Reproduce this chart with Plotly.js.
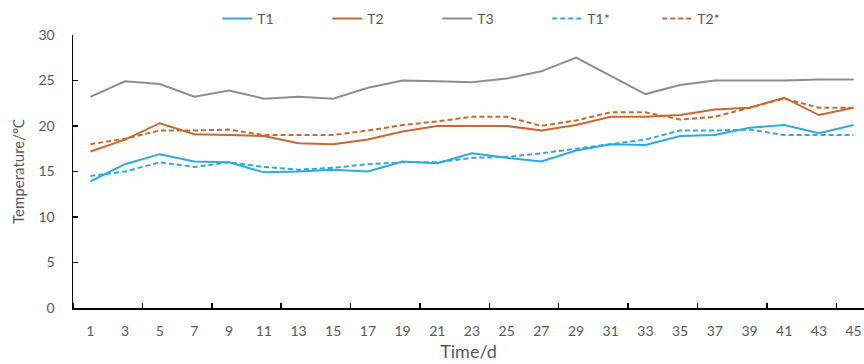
<!DOCTYPE html>
<html>
<head>
<meta charset="utf-8">
<script src="https://cdn.plot.ly/plotly-3.0.1.min.js"></script>
<style>html,body{margin:0;padding:0;background:#fff;}#chart{width:864px;height:364px;}</style>
</head>
<body>
<div id="chart"></div>
<script>
const days = [1,3,5,7,9,11,13,15,17,19,21,23,25,27,29,31,33,35,37,39,41,43,45];
const T1  = [13.9,15.8,16.9,16.1,16.0,14.9,15.0,15.2,15.0,16.1,15.9,17.0,16.5,16.1,17.3,18.0,17.9,18.9,19.0,19.8,20.1,19.2,20.1];
const T2  = [17.2,18.5,20.3,19.1,19.0,18.9,18.1,18.0,18.5,19.4,20.0,20.0,20.0,19.5,20.1,21.0,21.0,21.2,21.8,22.0,23.1,21.2,22.0];
const T3  = [23.2,24.9,24.6,23.2,23.9,23.0,23.2,23.0,24.2,25.0,24.9,24.8,25.2,26.0,27.5,25.5,23.5,24.5,25.0,25.0,25.0,25.1,25.1];
const T1s = [14.5,15.0,16.0,15.5,16.0,15.5,15.2,15.4,15.8,16.0,16.0,16.5,16.6,17.0,17.5,18.0,18.5,19.5,19.5,19.6,19.0,19.0,19.0];
const T2s = [18.0,18.6,19.5,19.5,19.6,19.0,19.0,19.0,19.5,20.1,20.5,21.0,21.0,20.0,20.6,21.5,21.5,20.7,21.0,22.0,23.0,22.0,22.0];
const names = ['T1','T2','T3','T1*','T2*'];
const blue = '#2DAAE1', orange = '#C9692F', gray = '#8E8E8E';

const series = [T1, T2, T3, T1s, T2s];
const colors = [blue, orange, gray, blue, orange];
const dashes = ['solid','solid','solid','5px,3px','5px,3px'];

const traces = series.map((s,i)=>({
  x: days, y: s, name: names[i], type:'scatter', mode:'lines',
  line:{color:colors[i], width:2, dash:dashes[i]}
}));

const fam = 'Lato, "Open Sans", sans-serif';
const txt = '#595959';

const layout = {
  width:864, height:364,
  margin:{l:73, r:0, t:25, b:56},
  paper_bgcolor:'#fff', plot_bgcolor:'#fff',
  font:{family:fam, size:14, color:txt},
  showlegend:true,
  legend:{orientation:'h', xref:'container', yref:'container', x:0.2515, xanchor:'left', y:0.992, yanchor:'top',
    entrywidth:65, font:{family:fam, size:14, color:txt}, bgcolor:'rgba(0,0,0,0)'},
  xaxis:{
    range:[0,45.6], tickmode:'array', tickvals:days, ticktext:days.map(String),
    ticks:'', showgrid:false, zeroline:false, showline:true, linecolor:'#000', linewidth:1.5,
    tickfont:{family:fam, size:14, color:txt}, ticklabelstandoff:10,
    minor:{tickmode:'linear', tick0:0, dtick:4, ticks:'inside', ticklen:5, tickwidth:1.5, tickcolor:'#000', showgrid:false},
    title:{text:'Time/d', font:{family:fam, size:18, color:txt}, standoff:7}
  },
  yaxis:{
    range:[0,30], dtick:5, ticks:'inside', ticklen:5, tickwidth:1.5, tickcolor:'#000',
    showgrid:false, zeroline:false, showline:true, linecolor:'#000', linewidth:1.5,
    tickfont:{family:fam, size:14, color:txt}, ticklabelstandoff:14,
    title:{text:'Temperature/℃', font:{family:fam, size:15, color:txt}, standoff:10}
  }
};

Plotly.newPlot('chart', traces, layout, {displayModeBar:false, staticPlot:true});
</script>
</body>
</html>
